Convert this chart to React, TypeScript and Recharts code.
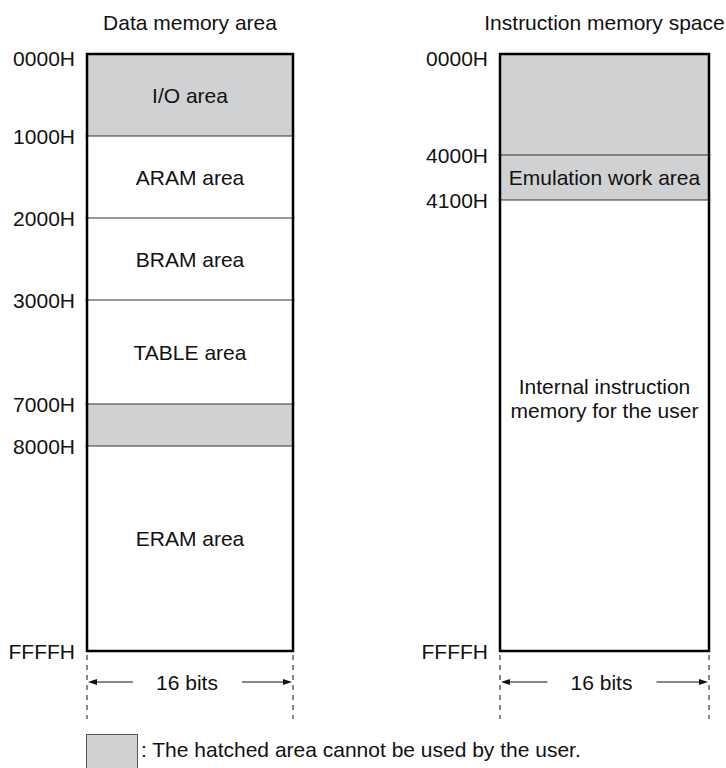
import React from 'react';
import { BarChart, Bar, XAxis, YAxis } from 'recharts';

// drawn span of each block (diagram units, not address size)
const dataTitle = 'Data memory area';
const dataAreas = ['I/O area', 'ARAM area', 'BRAM area', 'TABLE area', '', 'ERAM area'];
const dataSpans = [82, 82, 82, 104, 42, 205];
const dataReserved = [true, false, false, false, true, false];
const dataAddresses = ['0000H', '1000H', '2000H', '3000H', '7000H', '8000H', 'FFFFH'];

const instrTitle = 'Instruction memory space';
const instrAreas = ['', 'Emulation work area', 'Internal instruction\nmemory for the user'];
const instrSpans = [101, 45, 451];
const instrReserved = [true, true, false];
const instrAddresses = ['0000H', '4000H', '4100H', 'FFFFH'];

const widthLabel = '16 bits';
const legendText = ': The hatched area cannot be used by the user.';

const FONT = '"Liberation Sans", Arial, sans-serif';
const FS = 21;
const GRAY = '#d0d1d3';
const INK = '#111';
const labelShift: Record<string, number> = { 'ERAM area': -10, 'Internal instruction\nmemory for the user': -27 };

const Segment = (props: any) => {
  const { x, width, label, first, last, color } = props;
  // reversed axis can hand over a negative height
  const y = Math.min(props.y, props.y + props.height);
  const height = Math.abs(props.height);
  const lines = label ? String(label).split('\n') : [];
  const cy = y + height / 2 + (labelShift[label] || 0);
  return (
    <g>
      <rect x={x} y={y} width={width} height={height} fill={color} />
      <line x1={x - 1} x2={x + width + 1} y1={y} y2={y} stroke={first ? '#000' : '#333'} strokeWidth={first ? 2.5 : 1.2} />
      {last && <line x1={x - 1} x2={x + width + 1} y1={y + height} y2={y + height} stroke="#000" strokeWidth={2.5} />}
      <line x1={x} x2={x} y1={y - 1} y2={y + height + 1} stroke="#000" strokeWidth={2.5} />
      <line x1={x + width} x2={x + width} y1={y - 1} y2={y + height + 1} stroke="#000" strokeWidth={2.5} />
      {lines.map((t, i) => (
        <text key={i} x={x + width / 2} y={cy + (i - (lines.length - 1) / 2) * 24} dy="0.36em"
          textAnchor="middle" fontFamily={FONT} fontSize={FS} fill={INK}>{t}</text>
      ))}
    </g>
  );
};

const Arrow = ({ x1, x2, y }: { x1: number; x2: number; y: number }) => {
  const dir = x2 > x1 ? 1 : -1;
  return (
    <g>
      <line x1={x1} x2={x2 - dir * 8} y1={y} y2={y} stroke={INK} strokeWidth={1} />
      <path d={`M${x2},${y} L${x2 - dir * 9},${y - 3} L${x2 - dir * 9},${y + 3} Z`} fill={INK} />
    </g>
  );
};

const DimensionTick = (props: any) => {
  const { x, y, span } = props;
  const l = x - span / 2;
  const r = x + span / 2;
  const ay = y + 31;
  return (
    <g>
      <line x1={l} x2={l} y1={y + 4} y2={y + 68} stroke={INK} strokeDasharray="5 5" />
      <line x1={r} x2={r} y1={y + 4} y2={y + 68} stroke={INK} strokeDasharray="5 5" />
      <Arrow x1={x - 57} x2={l + 1} y={ay} />
      <Arrow x1={x + 52} x2={r - 1} y={ay} />
      <text x={x - 3} y={ay} dy="0.36em" textAnchor="middle" fontFamily={FONT} fontSize={FS} fill={INK}>{widthLabel}</text>
    </g>
  );
};

const TitleTick = (props: any) => {
  const { x, y, payload } = props;
  return (
    <text x={x} y={y - 32} dy="0.36em" textAnchor="middle" fontFamily={FONT} fontSize={FS} fill={INK}>{payload.value}</text>
  );
};

const AddressTick = (props: any) => {
  const { x, y, payload, ticks, addresses } = props;
  const i = ticks.indexOf(payload.value);
  return (
    <text x={x - 12} y={y + (i === 0 ? 4 : 0)} dy="0.36em" textAnchor="end" fontFamily={FONT} fontSize={FS} fill={INK}>
      {addresses[i]}
    </text>
  );
};

type MapProps = {
  title: string; areas: string[]; spans: number[]; reserved: boolean[]; addresses: string[];
  left: number; plotLeft: number; plotWidth: number; width: number;
};

const MemoryMap = ({ title, areas, spans, reserved, addresses, left, plotLeft, plotWidth, width }: MapProps) => {
  const row: Record<string, any> = { name: title };
  spans.forEach((v, i) => { row['s' + i] = v; });
  const ticks = spans.reduce((acc: number[], v) => [...acc, acc[acc.length - 1] + v], [0]);
  const total = ticks[ticks.length - 1];
  return (
    <div style={{ position: 'absolute', left, top: 0 }}>
      <BarChart width={width} height={768} data={[row]} barCategoryGap={0}
        margin={{ top: 0, right: width - plotLeft - plotWidth, bottom: 0, left: 0 }}>
        <XAxis xAxisId="top" orientation="top" dataKey="name" height={54} axisLine={false} tickLine={false}
          tickSize={0} tickMargin={0} tick={<TitleTick />} />
        <XAxis xAxisId="bottom" orientation="bottom" dataKey="name" height={117} axisLine={false} tickLine={false}
          tickSize={0} tickMargin={0} tick={(p: any) => <DimensionTick {...p} span={plotWidth} />} />
        <YAxis type="number" domain={[0, total]} reversed ticks={ticks} interval={0} width={plotLeft}
          axisLine={false} tickLine={false} tickSize={0} tickMargin={0}
          tick={(p: any) => <AddressTick {...p} ticks={ticks} addresses={addresses} />} />
        {spans.map((_, i) => (
          <Bar key={i} xAxisId="bottom" dataKey={'s' + i} stackId="m" isAnimationActive={false}
            fill={reserved[i] ? GRAY : '#fff'}
            shape={(p: any) => (
              <Segment {...p} color={reserved[i] ? GRAY : '#fff'} label={areas[i]} first={i === 0} last={i === spans.length - 1} />
            )} />
        ))}
      </BarChart>
    </div>
  );
};

export default function App() {
  return (
    <div style={{ position: 'absolute', left: 0, top: 0, width: 726, height: 768, background: '#fff', overflow: 'hidden', fontFamily: FONT }}>
      <MemoryMap title={dataTitle} areas={dataAreas} spans={dataSpans} reserved={dataReserved} addresses={dataAddresses}
        left={0} plotLeft={87} plotWidth={206} width={300} />
      <MemoryMap title={instrTitle} areas={instrAreas} spans={instrSpans} reserved={instrReserved} addresses={instrAddresses}
        left={300} plotLeft={200} plotWidth={209} width={426} />
      <div style={{ position: 'absolute', left: 86, top: 734, width: 50, height: 40, background: GRAY, border: '1px solid #555' }} />
      <div style={{ position: 'absolute', left: 141, top: 738, fontSize: FS, color: INK, lineHeight: '24px', whiteSpace: 'nowrap' }}>
        {legendText}
      </div>
    </div>
  );
}
